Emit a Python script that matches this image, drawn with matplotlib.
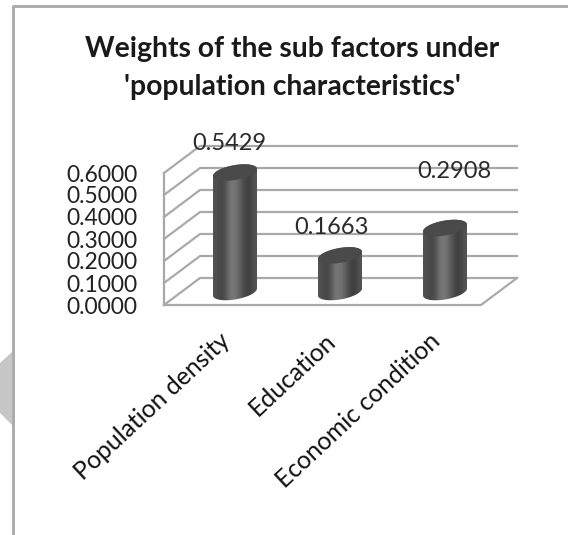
import numpy as np
import matplotlib
matplotlib.use('Agg')
import matplotlib.pyplot as plt
from matplotlib.path import Path
from matplotlib.patches import PathPatch, Polygon
from matplotlib.lines import Line2D
from matplotlib.transforms import ScaledTranslation

plt.rcParams['font.family'] = ['Lato', 'DejaVu Sans']

categories = ['Population density', 'Education', 'Economic condition']
weights = [0.5429, 0.1663, 0.2908]
weight_labels = ['0.5429', '0.1663', '0.2908']
tick_values = [0.0, 0.1, 0.2, 0.3, 0.4, 0.5, 0.6]
tick_labels = ['0.0000', '0.1000', '0.2000', '0.3000', '0.4000', '0.5000', '0.6000']
title = "Weights of the sub factors under\n'population characteristics'"

W, H = 568, 535
# pixel layout of the axes box
left, right, bottom, top = 164, 517, 305, 144
px_x = 105.0   # pixels per category
px_y = 220.0   # pixels per unit of weight
x0 = -(235 - left) / px_x
dx = 36 / px_x  # depth of the 3d box
dy = 27 / px_y

fig = plt.figure(figsize=(W / 100, H / 100), dpi=100)
ax = fig.add_axes([left / W, 1 - bottom / H, (right - left) / W, (bottom - top) / H])
ax.set_xlim(x0, x0 + (right - left) / px_x)
ax.set_ylim(0, (bottom - top) / px_y)
for s in ax.spines.values():
    s.set_visible(False)
ax.patch.set_visible(False)

grid_color = '#a9a9a9'
xmax = ax.get_xlim()[1]
# walls and floor
ax.plot([x0, x0], [0, 0.6], color=grid_color, lw=1.6, clip_on=False)
for t in tick_values:
    ax.plot([x0, x0 + dx, xmax], [t, t + dy, t + dy], color=grid_color, lw=1.6, clip_on=False)
ax.plot([x0, xmax - dx, xmax], [0, 0, dy], color=grid_color, lw=1.6, clip_on=False)

# cylinders
half_w = 22 / px_x
base = 13 / px_y
ry = 7.5 / px_y
tilt = 3.5 / px_y
shade = np.array([0.32, 0.29, 0.27, 0.33, 0.44, 0.47, 0.44, 0.36, 0.29, 0.25, 0.27, 0.33]).reshape(1, -1)
t = np.linspace(0, 2 * np.pi, 80)
for i, v in enumerate(weights):
    ex = i + half_w * np.cos(t)
    ell = ry * np.sin(t) + tilt * np.cos(t)
    side = t[t <= np.pi]
    xs = np.r_[i + half_w * np.cos(side), i + half_w * np.cos(side[::-1])]
    ys = np.r_[base + v + ry * np.sin(side) + tilt * np.cos(side),
               base - ry * np.sin(side[::-1]) + tilt * np.cos(side[::-1])]
    body = PathPatch(Path(np.c_[xs, ys]), fc='none', ec='none', zorder=3, transform=ax.transData)
    ax.add_patch(body)
    im = ax.imshow(shade, extent=[i - half_w, i + half_w, base - ry * 1.5, base + v + ry * 1.5],
                   cmap='gray', vmin=0, vmax=1, aspect='auto', interpolation='bicubic', zorder=3)
    im.set_clip_path(body)
    ax.fill(ex, base + v + ell, color='#4a4a4a', zorder=4, lw=0)

ax.set_xlim(x0, x0 + (right - left) / px_x)
ax.set_ylim(0, (bottom - top) / px_y)

# value labels, moved by hand in the original
label_offsets = [(-4, 21), (-6, 20), (7, 40.5)]
for i, v in enumerate(weights):
    ax.annotate(weight_labels[i], (i, v + base), xytext=label_offsets[i], textcoords='offset points',
                ha='center', va='center', fontsize=17, color='#2a2a2a', zorder=5)

ax.set_yticks(tick_values)
ax.set_yticklabels(tick_labels, fontsize=16.5, color='#222222')
ax.tick_params(axis='y', length=0, pad=19)
ax.set_xticks(range(len(categories)))
ax.set_xticklabels(categories, rotation=43, ha='right', rotation_mode='anchor', fontsize=17.8, color='#111111')
ax.tick_params(axis='x', length=0, pad=17)
shift = ScaledTranslation(-16 / 100, 0, fig.dpi_scale_trans)
for lab in ax.get_xticklabels():
    lab.set_transform(lab.get_transform() + shift)

fig.text(292 / W, 1 - 68 / H, title, ha='center', va='center', fontsize=20.3, fontweight='bold',
         color='#1a1a1a', linespacing=1.6)

# picture frame and the grey shape left of it
frame = '#a8a8a8'
fig.add_artist(Line2D([13 / W, 13 / W, 1], [0, 1 - 6 / H, 1 - 6 / H], color=frame, lw=2, transform=fig.transFigure))
fig.add_artist(Polygon([[12 / W, 1 - 352 / H], [0, 1 - 363 / H], [0, 1 - 413 / H], [12 / W, 1 - 425 / H]],
                       closed=True, fc='#c6c6c6', ec='none', transform=fig.transFigure))

fig.savefig('out.png', dpi=100)
